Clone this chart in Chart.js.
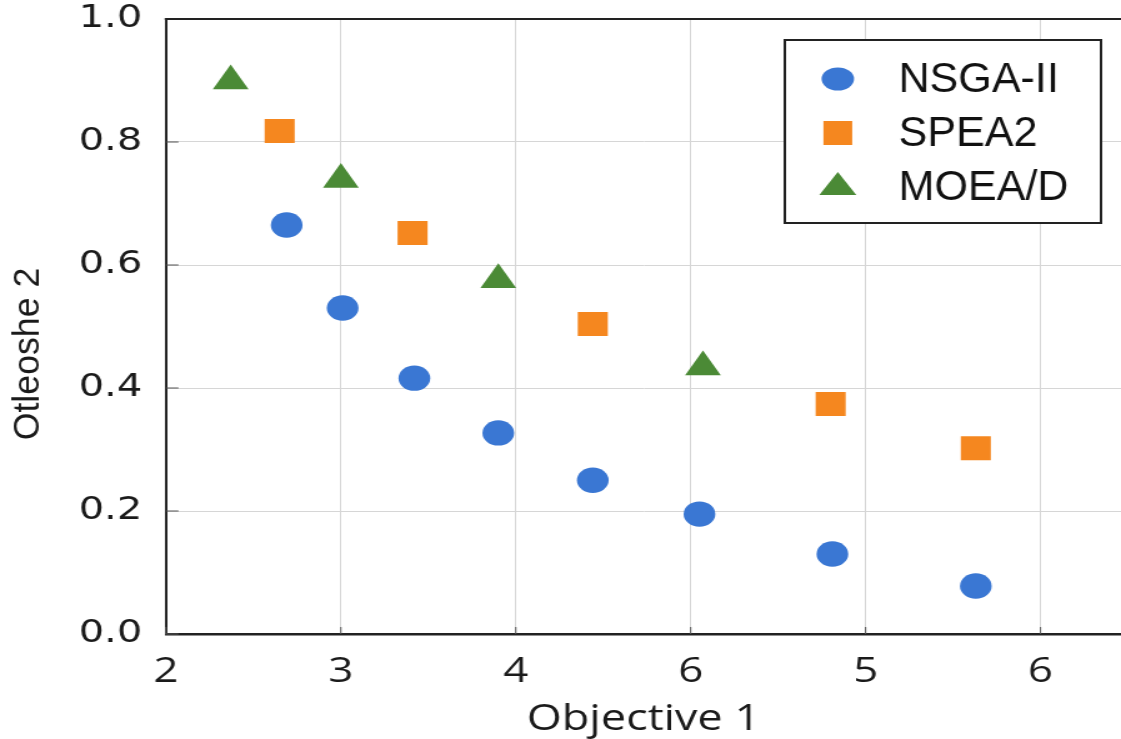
<!DOCTYPE html>
<html>
<head>
<meta charset="utf-8">
<script src="https://cdn.jsdelivr.net/npm/chart.js@4.4.1/dist/chart.umd.min.js"></script>
<style>
  html, body { margin: 0; padding: 0; background: #fff; overflow: hidden; }
  #c { display: block; }
</style>
</head>
<body>
<canvas id="c" width="897" height="739" style="width:1121px;height:739px;"></canvas>
<script>
// ---- data ----
const seriesNames = ['NSGA-II', 'SPEA2', 'MOEA/D'];
const nsgaX = [2.69, 3.01, 3.42, 3.90, 4.44, 5.05, 5.81, 6.63];
const nsgaY = [0.665, 0.530, 0.416, 0.327, 0.250, 0.195, 0.130, 0.078];
const speaX = [2.65, 3.41, 4.44, 5.80, 6.63];
const speaY = [0.818, 0.652, 0.504, 0.374, 0.302];
const moeaX = [2.37, 3.00, 3.90, 5.07];
const moeaY = [0.899, 0.739, 0.576, 0.434];
const xTickValues = [2, 3, 4, 5, 6, 7];
const xTickLabels = ['2', '3', '4', '6', '5', '6'];
const xTitle = 'Objective 1';
const yTitle = 'Otleoshe 2';

const colors = ['#3a77d3', '#f5871f', '#4b8a36'];
const toPts = (xs, ys) => xs.map((v, i) => ({x: v, y: ys[i]}));

const overlay = {
  id: 'overlay',
  beforeDatasetsDraw(chart) {
    const {ctx, chartArea: a, scales: {x, y}} = chart;
    ctx.save();
    ctx.strokeStyle = '#555';
    ctx.lineWidth = 1;
    y.ticks.forEach(t => {
      const py = y.getPixelForValue(t.value);
      ctx.beginPath(); ctx.moveTo(a.left, py); ctx.lineTo(a.left + 10, py); ctx.stroke();
    });
    x.ticks.forEach(t => {
      const px = x.getPixelForValue(t.value);
      ctx.beginPath(); ctx.moveTo(px, a.bottom); ctx.lineTo(px, a.bottom - 7); ctx.stroke();
    });
    ctx.strokeStyle = '#222';
    ctx.lineWidth = 2;
    ctx.beginPath(); ctx.moveTo(a.left - 1, a.top); ctx.lineTo(a.right, a.top); ctx.stroke();
    ctx.restore();
  },
  afterDraw(chart) {
    const {ctx} = chart;
    ctx.save();
    // y axis title (drawn rotated)
    ctx.translate(22.8, 354);
    ctx.rotate(-Math.PI / 2);
    ctx.scale(1.19, 1);
    ctx.font = '30px "Liberation Sans", Arial, sans-serif';
    ctx.textAlign = 'center';
    ctx.textBaseline = 'middle';
    ctx.fillStyle = '#1a1a1a';
    ctx.fillText(yTitle, 0, 0);
    ctx.restore();

    // legend box
    ctx.save();
    const lx = 628, ly = 40, lw = 253, lh = 183;
    ctx.fillStyle = '#fff';
    ctx.fillRect(lx, ly, lw, lh);
    ctx.strokeStyle = '#222';
    ctx.lineWidth = 2;
    ctx.strokeRect(lx, ly, lw, lh);
    const mx = 670.4;
    const ds = chart.data.datasets;
    // markers
    ctx.fillStyle = ds[0].backgroundColor;
    ctx.beginPath(); ctx.ellipse(mx, 79, 13, 11.5, 0, 0, Math.PI * 2); ctx.fill();
    ctx.fillStyle = ds[1].backgroundColor;
    ctx.fillRect(mx - 11.5, 133 - 12, 23, 24);
    ctx.fillStyle = ds[2].backgroundColor;
    ctx.beginPath(); ctx.moveTo(mx, 172); ctx.lineTo(mx + 14.8, 195); ctx.lineTo(mx - 14.8, 195); ctx.closePath(); ctx.fill();
    // labels
    ctx.fillStyle = '#111';
    ctx.font = '42px "Liberation Sans", Arial, sans-serif';
    ctx.textAlign = 'left';
    ctx.textBaseline = 'middle';
    ds.forEach((d, i) => {
      ctx.save();
      ctx.translate(719, 80 + i * 54);
      ctx.scale(0.82, 1);
      ctx.fillText(d.label, 0, 0);
      ctx.restore();
    });
    ctx.restore();
  }
};

new Chart(document.getElementById('c'), {
  type: 'scatter',
  data: {
    datasets: [
      { label: seriesNames[0], data: toPts(nsgaX, nsgaY), backgroundColor: colors[0], borderColor: colors[0],
        pointStyle: 'circle', pointRadius: 12.7, pointBorderWidth: 0 },
      { label: seriesNames[1], data: toPts(speaX, speaY), backgroundColor: colors[1], borderColor: colors[1],
        pointStyle: 'rect', pointRadius: 17, pointBorderWidth: 0 },
      { label: seriesNames[2], data: toPts(moeaX, moeaY), backgroundColor: colors[2], borderColor: colors[2],
        pointStyle: 'triangle', pointRadius: 16.5, pointBorderWidth: 0 }
    ]
  },
  options: {
    responsive: false,
    devicePixelRatio: 1,
    animation: false,
    events: [],
    layout: { autoPadding: false, padding: { top: 19, right: 0, left: 0, bottom: 0 } },
    plugins: { legend: { display: false }, tooltip: { enabled: false } },
    scales: {
      x: {
        type: 'linear',
        min: 2, max: 7.46,
        afterFit: s => { s.height = 105; s.paddingLeft = 0; s.paddingRight = 0; },
        border: { color: '#222', width: 2.5 },
        grid: { color: '#d6d6d6', lineWidth: 1, drawTicks: false },
        ticks: {
          stepSize: 1, includeBounds: false, maxRotation: 0, autoSkip: false,
          padding: 17, color: '#1a1a1a',
          font: { family: '"Open Sans", sans-serif', size: 35 },
          callback: v => { const i = xTickValues.indexOf(v); return i >= 0 ? xTickLabels[i] : ''; }
        },
        title: {
          display: true, text: xTitle, color: '#1a1a1a',
          font: { family: '"Open Sans", sans-serif', size: 36, lineHeight: 1 },
          padding: { top: 0, bottom: 1 }
        }
      },
      y: {
        type: 'linear',
        min: 0, max: 1,
        afterFit: s => { s.width = 132.8; s.paddingTop = 0; s.paddingBottom = 0; },
        border: { color: '#222', width: 2 },
        grid: { color: '#d6d6d6', lineWidth: 1, drawTicks: false },
        ticks: {
          stepSize: 0.2, padding: 19, color: '#1a1a1a',
          font: { family: '"DejaVu Sans", sans-serif', size: 32, lineHeight: 1 },
          callback: v => Number(v).toFixed(1)
        }
      }
    }
  },
  plugins: [overlay]
});
</script>
</body>
</html>
